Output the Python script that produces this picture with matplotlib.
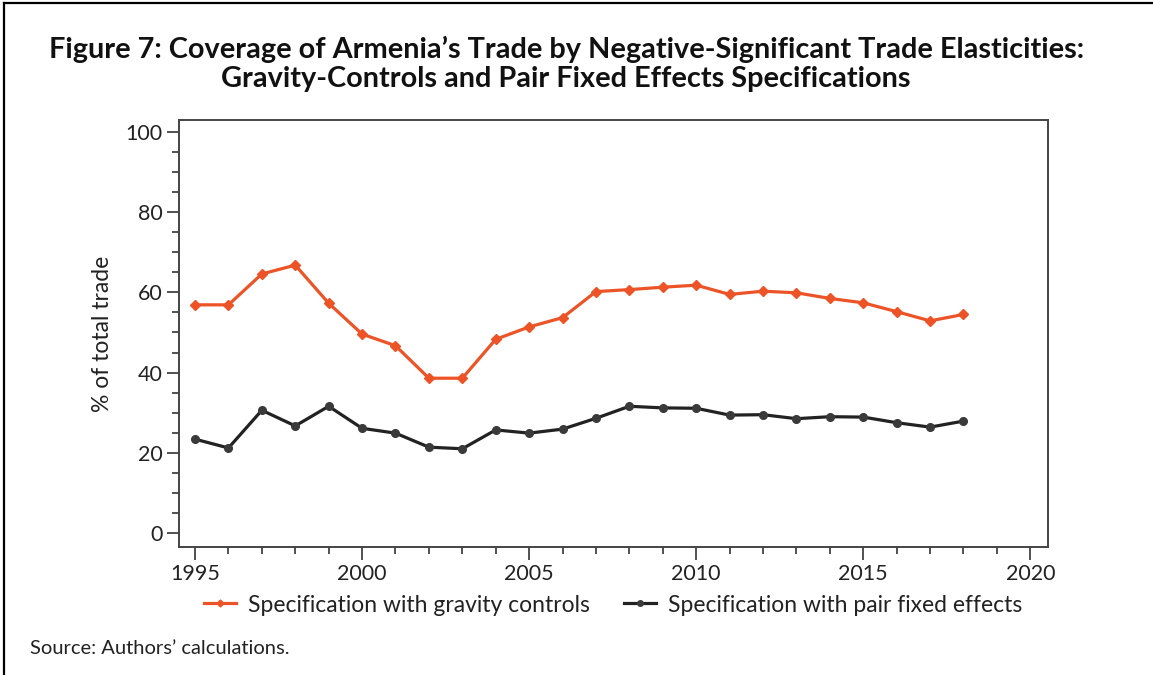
import matplotlib
matplotlib.use("Agg")
import matplotlib.pyplot as plt
from matplotlib.lines import Line2D
from matplotlib.ticker import MultipleLocator

years = list(range(1995, 2019))
gravity_controls = [56.9, 56.9, 64.6, 66.8, 57.3, 49.6, 46.7, 38.6, 38.6, 48.3, 51.4, 53.7,
                    60.2, 60.7, 61.3, 61.8, 59.5, 60.3, 59.9, 58.5, 57.4, 55.2, 52.9, 54.5]
pair_fixed = [23.4, 21.2, 30.6, 26.7, 31.6, 26.1, 24.9, 21.4, 21.0, 25.7, 24.9, 25.9,
              28.6, 31.6, 31.2, 31.1, 29.4, 29.5, 28.5, 29.0, 28.9, 27.5, 26.4, 27.9]
series_labels = ["Specification with gravity controls", "Specification with pair fixed effects"]
title = ("Figure 7: Coverage of Armenia\u2019s Trade by Negative-Significant Trade Elasticities:\n"
         "Gravity-Controls and Pair Fixed Effects Specifications")
ylabel = "% of total trade"
source = "Source: Authors\u2019 calculations."

plt.rcParams['font.family'] = ['Lato', 'DejaVu Sans']

ORANGE = "#EC5427"
DARK = "#222222"
DARK_M = "#3a3a3a"

fig = plt.figure(figsize=(11.53, 6.75), dpi=100)
ax = fig.add_axes([179/1153, 1-547/675, (1048-179)/1153, (547-120)/675])

ax.plot(years, gravity_controls, color=ORANGE, lw=2.3, marker='D', ms=5,
        mfc=ORANGE, mec=ORANGE, label=series_labels[0])
ax.plot(years, pair_fixed, color=DARK, lw=2.3, marker='o', ms=5.5,
        mfc=DARK_M, mec=DARK_M, label=series_labels[1])

ax.set_xlim(1994.52, 2020.53)
ax.set_ylim(-3.5, 103)
ax.xaxis.set_major_locator(MultipleLocator(5))
ax.xaxis.set_minor_locator(MultipleLocator(1))
ax.yaxis.set_minor_locator(MultipleLocator(5))
ax.set_yticks([0, 20, 40, 60, 80, 100])
ax.tick_params(which='major', direction='out', length=9, width=1.2, color='#333333',
               labelsize=15.5, labelcolor='#222222', pad=3)
ax.tick_params(which='minor', direction='out', length=5, width=1.2, color='#333333')
for s in ax.spines.values():
    s.set_color('#444444')
    s.set_linewidth(1.4)
ax.set_ylabel(ylabel, fontsize=16.5, color='#222222')
ax.yaxis.set_label_coords((113-179)/869, 0.5)

fig.text(0.491, 1-64/675, title, ha='center', va='center', fontsize=20.8,
         fontweight='bold', color='#111111', linespacing=1.12)

handles = [Line2D([0], [0], color=ORANGE, lw=2.3, marker='D', ms=3.5),
           Line2D([0], [0], color=DARK, lw=2.3, marker='o', ms=4, mfc=DARK_M, mec=DARK_M)]
fig.legend(handles, series_labels, loc='center', bbox_to_anchor=(613/1153, 1-605/675),
           ncol=2, frameon=False, fontsize=16.5, handlelength=1.4, handletextpad=0.5,
           columnspacing=1.5, labelcolor='#222222')

fig.text(30/1153, 1-649/675, source, ha='left', va='center', fontsize=14.5, color='#222222')

# partial frame (top and left)
fig.add_artist(Line2D([4/1153, 4/1153], [0, 1-3/675], color='black', lw=1.6,
                      transform=fig.transFigure))
fig.add_artist(Line2D([4/1153, 1], [1-3/675, 1-3/675], color='black', lw=1.6,
                      transform=fig.transFigure))

fig.savefig("out.png", dpi=100)
